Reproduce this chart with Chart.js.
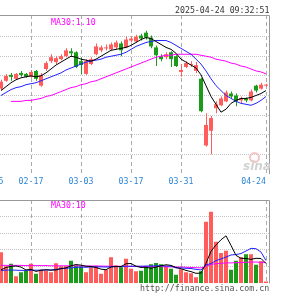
<!DOCTYPE html>
<html>
<head>
<meta charset="utf-8">
<script src="https://cdn.jsdelivr.net/npm/chart.js@4.4.1/dist/chart.umd.min.js"></script>
<style>
  html, body { margin: 0; padding: 0; background: #fff; }
  #wrap { position: relative; width: 300px; height: 300px; overflow: hidden;
          font-family: "DejaVu Sans Mono", monospace; font-size: 8.25px; line-height: 1; }
  canvas { position: absolute; left: 0; }
  #priceCanvas { top: 0; }
  #volCanvas { top: 196px; }
  .txt { position: absolute; white-space: nowrap; }
  #logo { position: absolute; left: 249px; top: 152px; width: 7px; height: 7px;
          border: 2px solid #f3c6c6; border-radius: 50%; }
  #sina { font: italic bold 12px "DejaVu Sans", sans-serif; color: #d2d2d2; }
</style>
</head>
<body>
<div id="wrap">
  <canvas id="priceCanvas" width="300" height="196"></canvas>
  <canvas id="volCanvas" width="300" height="104"></canvas>
  <div class="txt" style="left:175px;top:6px;color:#333">2025-04-24 09:32:51</div>
  <div class="txt" id="maPrice" style="left:51px;top:18px;color:#f0f"></div>
  <div class="txt" id="maVol" style="left:51px;top:201px;color:#f0f"></div>
  <div class="txt" style="left:140px;top:284px;color:#555">http://finance.sina.com.cn</div>
  <div id="logo"></div>
  <div class="txt" id="sina" style="left:243px;top:159px">sina</div>
</div>
<script>
// trading days shown (two earlier days are only used for the cut-off first label)
const hiddenDates = ['02-05', '02-06'];
const dates = ['02-07','02-10','02-11','02-12','02-13','02-14','02-17','02-18','02-19','02-20',
  '02-21','02-24','02-25','02-26','02-27','02-28','03-03','03-04','03-05','03-06',
  '03-07','03-10','03-11','03-12','03-13','03-14','03-17','03-18','03-19','03-20',
  '03-21','03-24','03-25','03-26','03-27','03-28','03-31','04-01','04-02','04-03',
  '04-07','04-08','04-09','04-10','04-11','04-14','04-15','04-16','04-17','04-18',
  '04-21','04-22','04-23','04-24'];
const tickLabels = ['02-05', '02-17', '03-03', '03-17', '03-31', '04-24'];
const priceGrid = [1.02, 1.04, 1.06, 1.08, 1.10, 1.12, 1.14];
const volGrid = [8, 16, 24, 32];

const open = [1.087,1.095,1.101,1.097,1.103,1.102,1.099,1.105,1.090,1.107,
  1.115,1.114,1.117,1.120,1.125,1.124,1.115,1.102,1.112,1.122,
  1.126,1.128,1.127,1.129,1.133,1.129,1.136,1.135,1.141,1.144,
  1.139,1.129,1.120,1.119,1.124,1.120,1.104,1.109,1.111,1.105,
  1.097,1.029,1.044,1.067,1.070,1.074,1.082,1.080,1.075,1.077,
  1.075,1.090,1.087,1.090];
const close = [1.094,1.100,1.099,1.102,1.101,1.099,1.104,1.097,1.101,1.113,
  1.119,1.118,1.120,1.126,1.123,1.109,1.111,1.115,1.117,1.130,
  1.129,1.129,1.132,1.134,1.126,1.137,1.138,1.140,1.138,1.139,
  1.130,1.121,1.117,1.122,1.117,1.110,1.106,1.113,1.112,1.111,
  1.064,1.050,1.057,1.071,1.077,1.083,1.079,1.074,1.077,1.075,
  1.084,1.085,1.091,1.091];
const high = [1.096,1.102,1.103,1.103,1.105,1.103,1.106,1.106,1.103,1.115,
  1.122,1.120,1.122,1.128,1.128,1.125,1.119,1.117,1.119,1.133,
  1.131,1.132,1.134,1.136,1.135,1.140,1.140,1.142,1.143,1.146,
  1.141,1.131,1.122,1.124,1.125,1.121,1.112,1.115,1.115,1.114,
  1.098,1.062,1.059,1.074,1.079,1.085,1.084,1.082,1.079,1.078,
  1.086,1.091,1.093,1.092];
const low = [1.085,1.094,1.095,1.096,1.099,1.098,1.098,1.095,1.089,1.105,
  1.113,1.112,1.116,1.119,1.120,1.108,1.102,1.101,1.111,1.121,
  1.124,1.126,1.126,1.127,1.120,1.128,1.134,1.134,1.136,1.137,
  1.128,1.110,1.115,1.117,1.109,1.109,1.099,1.108,1.109,1.103,
  1.063,1.028,1.020,1.062,1.069,1.073,1.077,1.069,1.072,1.073,
  1.074,1.083,1.086,1.089];
const ma5 = [1.085,1.089,1.093,1.096,1.098,1.099,1.100,1.099,1.100,1.103,
  1.107,1.111,1.114,1.117,1.120,1.119,1.117,1.116,1.115,1.117,
  1.120,1.123,1.126,1.127,1.128,1.129,1.131,1.134,1.137,1.139,
  1.138,1.135,1.132,1.129,1.127,1.123,1.117,1.114,1.111,1.108,
  1.101,1.090,1.079,1.071,1.063,1.066,1.072,1.075,1.077,1.077,
  1.078,1.080,1.082,1.085];
const ma10 = [1.080,1.083,1.086,1.088,1.089,1.091,1.092,1.093,1.095,1.097,
  1.099,1.101,1.103,1.106,1.108,1.110,1.112,1.114,1.115,1.116,
  1.117,1.119,1.120,1.121,1.122,1.124,1.127,1.130,1.132,1.134,
  1.135,1.136,1.136,1.136,1.134,1.131,1.128,1.125,1.122,1.117,
  1.112,1.105,1.097,1.090,1.085,1.080,1.077,1.074,1.072,1.071,
  1.070,1.072,1.075,1.079];
const ma30 = [null,null,1.074,1.074,1.074,1.075,1.075,1.076,1.077,1.079,
  1.080,1.082,1.084,1.086,1.088,1.089,1.091,1.092,1.094,1.095,
  1.097,1.099,1.101,1.103,1.105,1.107,1.109,1.111,1.113,1.115,
  1.117,1.119,1.120,1.121,1.121,1.122,1.122,1.122,1.122,1.122,
  1.121,1.120,1.119,1.117,1.116,1.115,1.113,1.112,1.110,1.109,
  1.107,1.105,1.104,1.102];

const volume = [14.9,8.2,9.4,3.4,5.3,6.0,9.4,4.6,6.5,6.0,
  5.3,9.6,8.2,8.2,10.8,8.4,8.2,5.3,7.7,8.4,
  4.6,6.5,12.5,8.6,7.7,11.8,7.0,5.8,6.0,8.2,
  9.1,9.8,9.1,8.2,7.0,4.1,6.7,5.3,4.8,2.9,
  5.8,29.5,34.3,19.9,14.6,15.6,6.5,10.8,12.5,13.9,
  13.9,8.9,10.6,0.9];
const volMa5 = [6.4,7.6,8.1,8.3,7.8,6.4,6.7,5.7,6.3,6.5,
  6.3,6.4,7.1,7.4,8.4,9.0,8.7,8.2,8.1,7.6,
  6.8,6.5,7.9,8.1,8.0,9.4,9.5,8.2,7.6,7.7,
  7.2,7.8,8.4,8.9,8.6,7.6,7.0,6.2,5.6,4.8,
  4.9,9.6,15.4,18.4,20.9,22.8,18.2,13.4,12.0,11.9,
  11.5,12.0,11.9,9.5];
const volMa10 = [6.2,6.3,6.4,6.3,6.2,6.2,6.3,6.3,6.3,6.4,
  6.4,6.7,7.0,7.2,7.4,7.7,7.7,7.7,7.8,7.9,
  7.9,7.8,7.9,8.0,7.9,8.2,8.2,8.2,8.2,8.3,
  8.3,8.4,8.4,8.3,8.2,7.4,7.4,7.2,7.1,6.7,
  6.4,8.8,9.5,10.9,11.7,12.6,13.6,13.8,14.3,15.5,
  16.8,16.6,15.0,10.9];
const volMa30 = [8.6,8.6,8.6,8.6,8.6,8.5,8.5,8.5,8.5,8.5,
  8.4,8.4,8.4,8.4,8.4,8.4,8.3,8.3,8.3,8.3,
  8.3,8.2,8.2,8.2,8.2,8.2,8.1,8.1,8.1,8.0,
  8.0,8.0,8.0,7.9,7.9,7.8,7.8,7.7,7.6,7.5,
  7.4,8.1,9.1,9.4,9.6,9.8,9.8,9.9,10.0,10.1,
  10.2,10.2,10.1,10.0];

const upColor = '#ff5c5c';
const downColor = '#1a9c1a';
const monoFont = { family: 'DejaVu Sans Mono', size: 8.25 };

const allDates = hiddenDates.concat(dates);
const tickPos = tickLabels.map(d => allDates.indexOf(d) - hiddenDates.length);
const candleColors = close.map((c, i) => c >= open[i] ? upColor : downColor);
const pts = arr => arr.map((v, i) => ({ x: i, y: v }));

document.getElementById('maPrice').textContent = 'MA30:' + ma30[ma30.length - 1].toFixed(2);
document.getElementById('maVol').textContent = 'MA30:' + Math.round(volMa30[volMa30.length - 1]);

// top + right frame lines of each panel
const frame = {
  id: 'frame',
  afterDraw(chart) {
    const { ctx, chartArea: a } = chart;
    const top = Math.round(a.top) + 0.5;
    const right = Math.round(a.right) - 0.5;
    ctx.save();
    ctx.strokeStyle = '#999';
    ctx.lineWidth = 1;
    ctx.beginPath();
    ctx.moveTo(0, top);
    ctx.lineTo(right, top);
    ctx.lineTo(right, a.bottom);
    ctx.stroke();
    ctx.restore();
  }
};

function dateAxis(min, max, showLabels) {
  // first entry is an empty dummy so 'inner' only right-aligns the last label
  const labels = [''].concat(tickLabels);
  const values = [tickPos[0]].concat(tickPos);
  return {
    type: 'linear', min: min, max: max, offset: false,
    grid: { offset: false, color: '#aaa', drawTicks: false },
    border: { display: false, dash: [4, 3] },
    ticks: {
      display: showLabels, autoSkip: false, maxRotation: 0, align: 'inner',
      padding: 3, color: '#2f86d8', font: monoFont,
      callback: (v, i) => labels[i]
    },
    afterBuildTicks: s => { s.ticks = values.map(v => ({ value: v })); },
    afterFit: s => { s.paddingLeft = 0; s.paddingRight = 0; }
  };
}

function valueAxis(min, max, grid) {
  return {
    type: 'linear', min: min, max: max, position: 'left',
    grid: { color: '#c4c4c4', drawTicks: false },
    border: { display: false, dash: [1, 1] },
    ticks: { display: false },
    afterBuildTicks: s => { s.ticks = grid.map(v => ({ value: v })); }
  };
}

const lineSet = (data, color) => ({
  type: 'line', data: pts(data), borderColor: color, borderWidth: 1,
  pointRadius: 0, tension: 0, order: 0
});

new Chart(document.getElementById('priceCanvas'), {
  type: 'bar',
  data: {
    datasets: [
      lineSet(ma5, '#000'),
      lineSet(ma10, '#2222ff'),
      lineSet(ma30, '#ff00ff'),
      {
        type: 'bar', data: open.map((o, i) => ({ x: i, y: [o, close[i]] })),
        backgroundColor: candleColors, barThickness: 4, minBarLength: 1,
        grouped: false, inflateAmount: 0, order: 1
      },
      {
        // wicks sit on a hidden twin axis shifted half a pixel so they stay crisp
        type: 'bar', xAxisID: 'xw', data: low.map((l, i) => ({ x: i, y: [l, high[i]] })),
        backgroundColor: candleColors, barThickness: 1,
        grouped: false, inflateAmount: 0, order: 2
      }
    ]
  },
  options: {
    responsive: false, animation: false, devicePixelRatio: 1,
    layout: { padding: { left: 0, right: 30, top: 15, bottom: 6.1 } },
    plugins: { legend: { display: false }, tooltip: { enabled: false } },
    scales: {
      x: dateAxis(-0.2, 53.8, true),
      xw: { type: 'linear', display: false, min: -0.3, max: 53.7, offset: false },
      y: valueAxis(1.0, 1.162, priceGrid)
    }
  },
  plugins: [frame]
});

new Chart(document.getElementById('volCanvas'), {
  type: 'bar',
  data: {
    datasets: [
      lineSet(volMa5, '#000'),
      lineSet(volMa10, '#2222ff'),
      lineSet(volMa30, '#ff00ff'),
      {
        type: 'bar', data: pts(volume), backgroundColor: candleColors,
        barThickness: 4, grouped: false, inflateAmount: 0, order: 1
      }
    ]
  },
  options: {
    responsive: false, animation: false, devicePixelRatio: 1,
    layout: { padding: { left: 0, right: 30, top: 4, bottom: 16.7 } },
    plugins: { legend: { display: false }, tooltip: { enabled: false } },
    scales: {
      x: dateAxis(-0.2, 53.8, false),
      y: valueAxis(0, 40, volGrid)
    }
  },
  plugins: [frame]
});
</script>
</body>
</html>
